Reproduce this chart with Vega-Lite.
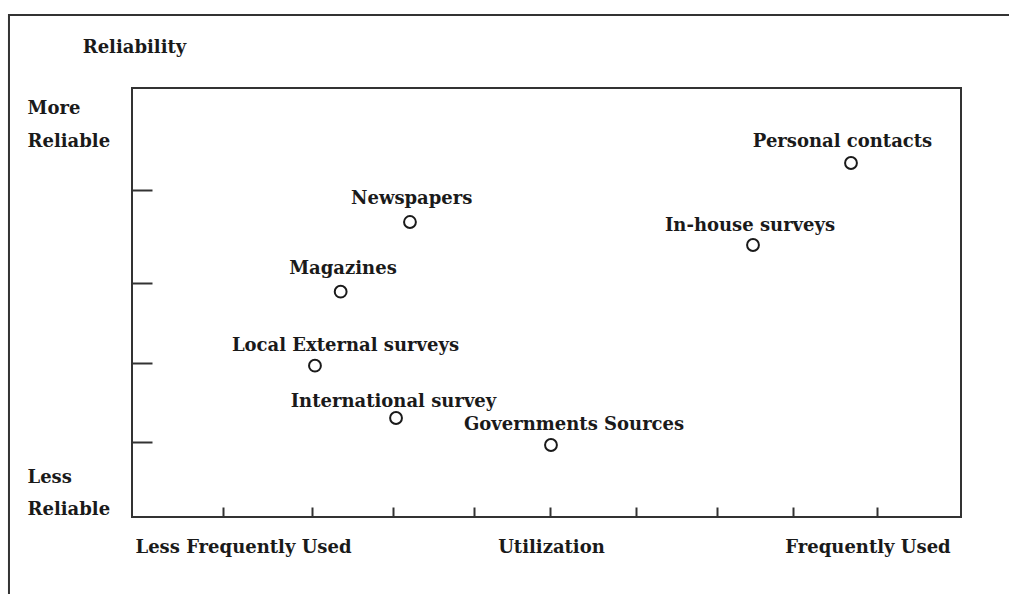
{
  "$schema": "https://vega.github.io/schema/vega-lite/v6.json",
  "width": 829,
  "height": 429,
  "autosize": {"type": "none"},
  "padding": {"left": 132, "top": 88, "right": 48, "bottom": 77},
  "background": "white",
  "config": {
    "view": {"stroke": "#333333", "strokeWidth": 2},
    "font": "DejaVu Serif",
    "axis": {"domain": false, "grid": false, "labelFont": "DejaVu Serif", "titleFont": "DejaVu Serif", "labelColor": "#1a1a1a", "titleColor": "#1a1a1a", "tickColor": "#333333", "labelLimit": 0, "titleLimit": 0}
  },
  "datasets": {
    "sources": [
      {"source": "Personal contacts", "utilization": 86.73, "reliability": 82.52, "labelX": 85.71, "labelY": 87.48},
      {"source": "In-house surveys", "utilization": 74.91, "reliability": 63.40, "labelX": 74.55, "labelY": 67.83},
      {"source": "Newspapers", "utilization": 33.53, "reliability": 68.76, "labelX": 33.74, "labelY": 74.13},
      {"source": "Magazines", "utilization": 25.17, "reliability": 52.52, "labelX": 25.45, "labelY": 57.81},
      {"source": "Local External surveys", "utilization": 22.07, "reliability": 35.27, "labelX": 25.75, "labelY": 39.93},
      {"source": "International survey", "utilization": 31.85, "reliability": 23.08, "labelX": 31.54, "labelY": 26.81},
      {"source": "Governments Sources", "utilization": 50.54, "reliability": 16.78, "labelX": 53.32, "labelY": 21.45}
    ],
    "frame": [
      {"x0": -14.84, "x1": 107.1, "y0": 117.0, "y1": -21.7}
    ]
  },
  "layer": [
    {
      "data": {"name": "frame"},
      "mark": {"type": "rect", "fill": null, "fillOpacity": 0, "stroke": "#333333", "strokeWidth": 2, "clip": false},
      "encoding": {
        "x": {"field": "x0", "type": "quantitative", "scale": {"domain": [0, 100], "nice": false, "zero": false}, "axis": null},
        "x2": {"field": "x1"},
        "y": {"field": "y0", "type": "quantitative", "scale": {"domain": [0, 100], "nice": false, "zero": false}, "axis": null},
        "y2": {"field": "y1"}
      }
    },
    {
      "data": {"name": "sources"},
      "mark": {"type": "point", "shape": "circle", "filled": false, "size": 140, "stroke": "#1a1a1a", "strokeWidth": 2, "opacity": 1},
      "encoding": {
        "x": {
          "field": "utilization", "type": "quantitative",
          "axis": {"orient": "bottom", "values": [10.98, 21.71, 31.48, 41.25, 50.42, 60.8, 70.57, 79.73, 89.87], "labels": false, "ticks": true, "tickSize": -10, "tickWidth": 2, "title": null}
        },
        "y": {
          "field": "reliability", "type": "quantitative",
          "axis": {"orient": "left", "values": [17.55, 35.83, 54.48, 76.22], "labels": false, "ticks": true, "tickSize": -20, "tickWidth": 2, "title": null}
        }
      }
    },
    {
      "data": {"name": "sources"},
      "mark": {"type": "text", "align": "center", "baseline": "middle", "font": "DejaVu Serif", "fontSize": 18, "fontWeight": "bold", "color": "#1a1a1a"},
      "encoding": {
        "x": {
          "field": "labelX", "type": "quantitative",
          "axis": {"orient": "bottom", "values": [13.39, 50.54, 88.72], "labelExpr": "datum.value < 30 ? 'Less Frequently Used' : datum.value < 70 ? 'Utilization' : 'Frequently Used'", "ticks": false, "labelPadding": 35, "labelBaseline": "alphabetic", "labelAlign": "center", "labelFontSize": 18, "labelFontWeight": "bold", "labelOverlap": false, "labelFlush": false, "labelBound": false, "labelLimit": 0, "title": null}
        },
        "y": {
          "field": "labelY", "type": "quantitative",
          "axis": {"orient": "left", "values": [0.47, 7.93, 86.48, 93.94], "labelExpr": "datum.value > 90 ? 'More' : datum.value > 50 ? 'Reliable' : datum.value > 5 ? 'Less' : 'Reliable'", "ticks": false, "labelPadding": 105, "labelAlign": "left", "labelBaseline": "alphabetic", "labelFontSize": 18, "labelFontWeight": "bold", "labelOverlap": false, "labelFlush": false, "labelBound": false, "labelLimit": 0,
            "title": "Reliability", "titleAngle": 0, "titleX": 2, "titleY": -36, "titleAlign": "center", "titleBaseline": "alphabetic", "titleFontSize": 18, "titleFontWeight": "bold"}
        },
        "text": {"field": "source", "type": "nominal"}
      }
    }
  ],
  "resolve": {"axis": {"x": "independent", "y": "independent"}}
}
